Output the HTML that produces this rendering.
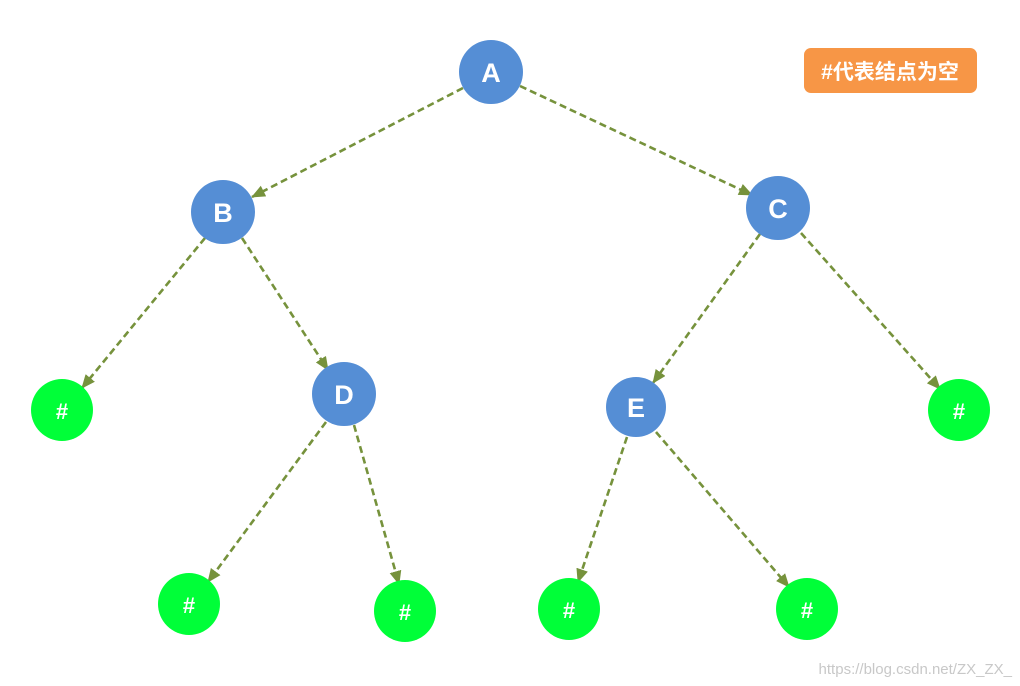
<!DOCTYPE html>
<html><head><meta charset="utf-8"><style>
html,body{margin:0;padding:0;background:#fff;}
svg{display:block;}
</style></head><body>
<svg width="1020" height="686" viewBox="0 0 1020 686" xmlns="http://www.w3.org/2000/svg">
<defs>
<marker id="ar" markerWidth="14" markerHeight="12" refX="13" refY="6" orient="auto" markerUnits="userSpaceOnUse">
<path d="M0,0 L14,6 L0,12 z" fill="#76923C"/>
</marker>
</defs>
<g stroke="#76923C" stroke-width="2.6" stroke-dasharray="7,4" fill="none" marker-end="url(#ar)">
<line x1="463" y1="88" x2="252" y2="197"/>
<line x1="520" y1="86" x2="752" y2="195"/>
<line x1="205" y1="238" x2="82" y2="388"/>
<line x1="242" y1="238" x2="328" y2="370"/>
<line x1="760" y1="234" x2="653" y2="383"/>
<line x1="801" y1="233" x2="940" y2="389"/>
<line x1="326" y1="422" x2="208" y2="582"/>
<line x1="354" y1="425" x2="399" y2="584"/>
<line x1="627" y1="437" x2="578" y2="582"/>
<line x1="656" y1="432" x2="789" y2="587"/>
</g>
<g fill="#558ED5">
<circle cx="491" cy="72" r="32"/>
<circle cx="223" cy="212" r="32"/>
<circle cx="778" cy="208" r="32"/>
<circle cx="344" cy="394" r="32"/>
<circle cx="636" cy="407" r="30"/>
</g>
<g fill="#00FF38">
<circle cx="62" cy="410" r="31"/>
<circle cx="189" cy="604" r="31"/>
<circle cx="405" cy="611" r="31"/>
<circle cx="569" cy="609" r="31"/>
<circle cx="807" cy="609" r="31"/>
<circle cx="959" cy="410" r="31"/>
</g>
<g fill="#fff" font-family="Liberation Sans, sans-serif" font-weight="bold" text-anchor="middle">
<text x="491" y="82" font-size="27">A</text>
<text x="223" y="222" font-size="27">B</text>
<text x="778" y="218" font-size="27">C</text>
<text x="344" y="404" font-size="27">D</text>
<text x="636" y="417" font-size="27">E</text>
<text x="62" y="419" font-size="22">#</text>
<text x="189" y="613" font-size="22">#</text>
<text x="405" y="620" font-size="22">#</text>
<text x="569" y="618" font-size="22">#</text>
<text x="807" y="618" font-size="22">#</text>
<text x="959" y="419" font-size="22">#</text>
</g>
<rect x="804" y="48" width="173" height="45" rx="7" fill="#F79646"/>
<text x="890" y="79" fill="#fff" font-size="21" font-weight="bold" text-anchor="middle" font-family="Liberation Sans, Noto Sans CJK SC, sans-serif">#代表结点为空</text>
<text x="1012" y="674" fill="#c8c8c8" font-size="15" text-anchor="end" font-family="Liberation Sans, sans-serif">https://blog.csdn.net/ZX_ZX_</text>
</svg>
</body></html>
